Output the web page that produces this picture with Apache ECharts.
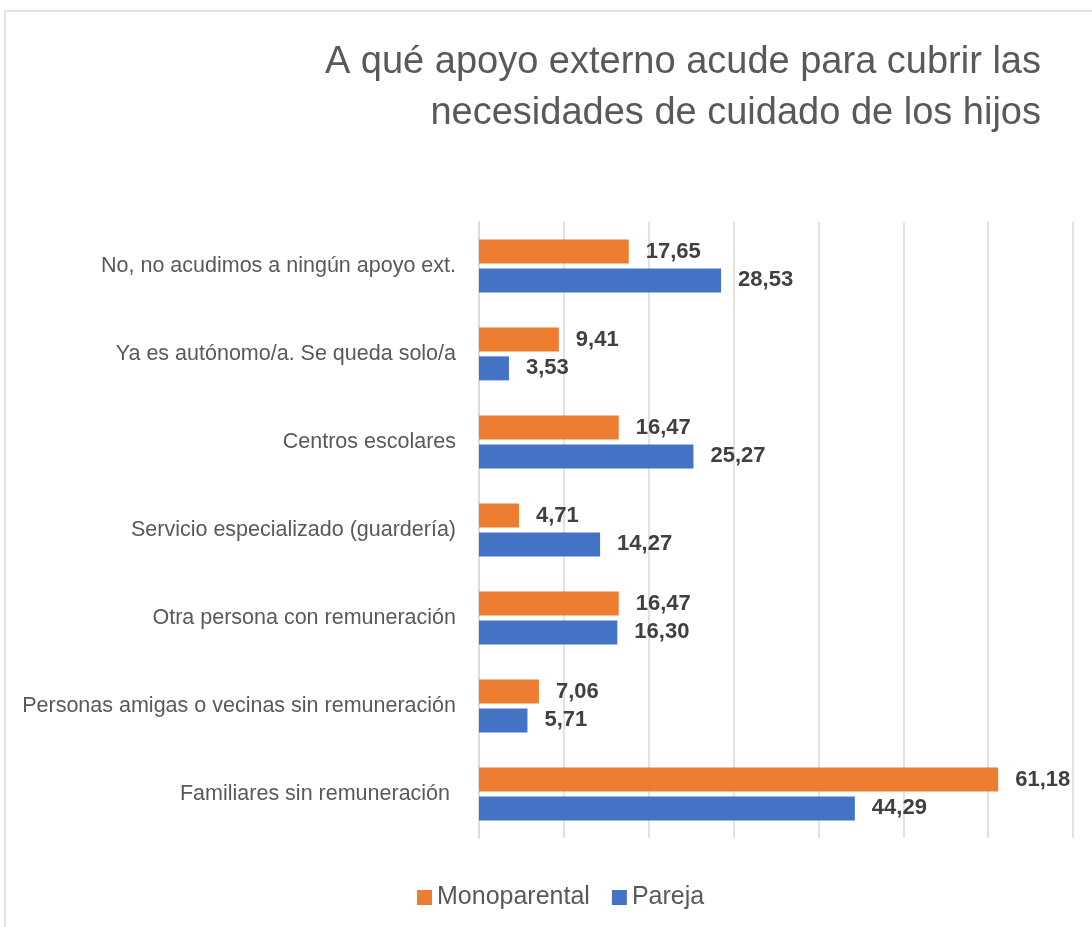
<!DOCTYPE html>
<html>
<head>
<meta charset="utf-8">
<title>Apoyo externo</title>
<script src="https://cdn.jsdelivr.net/npm/echarts@6/dist/echarts.min.js"></script>
<style>
    html, body {
        margin: 0;
        padding: 0;
        background: #fff;
    }
    #chartBar {
        width: 1092px;
        height: 927px;
    }
</style>
</head>
<body>
<div id="chartBar"></div>
<script>
    var categories = [
        'No, no acudimos a ningún apoyo ext.',
        'Ya es autónomo/a. Se queda solo/a',
        'Centros escolares',
        'Servicio especializado (guardería)',
        'Otra persona con remuneración',
        'Personas amigas o vecinas sin remuneración',
        'Familiares sin remuneración '
    ]
    var monoparental = [17.65, 9.41, 16.47, 4.71, 16.47, 7.06, 61.18]
    var pareja = [28.53, 3.53, 25.27, 14.27, 16.30, 5.71, 44.29]
    var seriesNames = ['Monoparental', 'Pareja']

    var grey = '#d9d9d9'
    var font = '"Liberation Sans", Arial, sans-serif'

    function comma(p) {
        return p.value.toFixed(2).replace('.', ',')
    }

    function barSeries(name, data, color) {
        return {
            name: name,
            type: 'bar',
            data: data,
            barWidth: 24,
            barGap: '20%',
            itemStyle: { color: color },
            label: {
                show: true,
                position: 'right',
                distance: 17,
                formatter: comma,
                color: '#404040',
                fontFamily: font,
                fontWeight: 'bold',
                fontSize: 22
            }
        }
    }

    var chartBar = echarts.init(document.getElementById('chartBar'))
    chartBar.setOption({
        animation: false,
        graphic: [{
            type: 'rect',
            shape: { x: 5, y: 11, width: 1200, height: 1000 },
            style: { fill: 'none', stroke: grey, lineWidth: 1.5 },
            z: -1
        }],
        title: {
            text: 'A qué apoyo externo acude para cubrir las\nnecesidades de cuidado de los hijos',
            left: 1036,
            top: 32,
            textAlign: 'right',
            textStyle: {
                fontFamily: font,
                fontWeight: 'normal',
                fontSize: 38,
                lineHeight: 51,
                color: '#595959'
            }
        },
        legend: {
            data: seriesNames,
            left: 412,
            top: 880,
            icon: 'rect',
            itemWidth: 15,
            itemHeight: 15,
            itemGap: 22,
            textStyle: {
                fontFamily: font,
                fontSize: 25,
                color: '#595959'
            }
        },
        grid: {
            left: 479,
            right: 19,
            top: 222,
            bottom: 89
        },
        xAxis: {
            type: 'value',
            min: 0,
            max: 70,
            interval: 10,
            axisLabel: { show: false },
            axisLine: { show: false },
            axisTick: { show: false },
            splitLine: { lineStyle: { color: grey, width: 1.5 } }
        },
        yAxis: {
            type: 'category',
            inverse: true,
            data: categories,
            axisLine: { lineStyle: { color: grey, width: 1.5 } },
            axisTick: { length: 6, lineStyle: { color: grey, width: 1.5 } },
            axisLabel: {
                margin: 23,
                fontFamily: font,
                fontSize: 21.5,
                color: '#595959'
            }
        },
        series: [
            barSeries(seriesNames[0], monoparental, '#ED7D31'),
            barSeries(seriesNames[1], pareja, '#4472C4')
        ]
    })
</script>
</body>
</html>
